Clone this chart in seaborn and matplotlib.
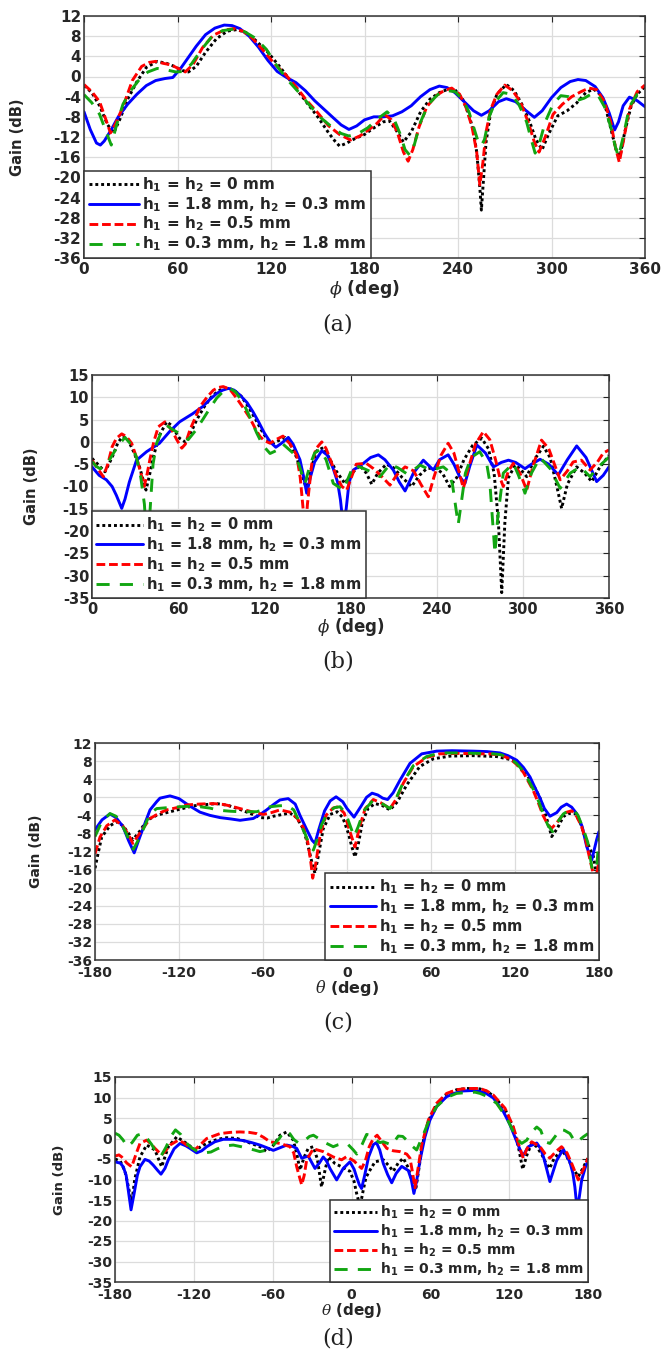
import matplotlib
matplotlib.use("Agg")
import matplotlib.pyplot as plt
import seaborn as sns

# --------------------
# Data (angle in deg, gain in dB)
# --------------------
LABELS = [r"h$_\mathbf{1}$ = h$_\mathbf{2}$ = 0 mm",
          r"h$_\mathbf{1}$ = 1.8 mm, h$_\mathbf{2}$ = 0.3 mm",
          r"h$_\mathbf{1}$ = h$_\mathbf{2}$ = 0.5 mm",
          r"h$_\mathbf{1}$ = 0.3 mm, h$_\mathbf{2}$ = 1.8 mm"]

# (a) phi cut, 0..360
a_blk_x = [0, 5, 10, 15, 19, 23, 28, 34, 40, 47, 53, 58, 63, 67, 72, 78, 85, 92, 98, 104, 110, 118, 126, 134, 142,
           150, 157, 161, 164, 168, 174, 180, 186, 192, 196, 200, 205, 210, 216, 222, 228, 233, 238, 243, 247, 250,
           252, 254, 255, 256, 258, 261, 265, 271, 276, 281, 286, 290, 294, 298, 304, 310, 316, 322, 327, 331, 335,
           339, 342, 344, 347, 351, 355, 360]
a_blk_y = [-1.8, -3.2, -5.8, -9.5, -11.2, -8.5, -4.5, -1.0, 1.8, 3.0, 2.6, 2.0, 1.2, 0.9, 2.0, 4.8, 7.5, 9.0, 9.3, 8.7,
           7.2, 4.8, 1.8, -1.5, -4.8, -8.0, -11.2, -12.8, -13.8, -13.3, -12.3, -11.5, -10.2, -9.0, -8.8, -10.5, -13.0,
           -11.0, -7.0, -4.5, -3.2, -2.6, -2.6, -4.5, -7.5, -11.0, -15.0, -22.0, -26.5, -22.0, -13.0, -7.0, -3.5, -1.6,
           -2.8, -5.5, -9.0, -12.5, -14.5, -11.5, -7.8, -6.8, -5.3, -3.2, -2.5, -3.5, -6.5, -11.5, -15.2, -15.8, -11.0,
           -6.0, -3.5, -2.0]
a_blu_x = [0, 4, 8, 10.5, 13, 17, 22, 28, 34, 40, 46, 52, 57, 62, 67, 72, 78, 84, 90, 95, 100, 106, 112, 118, 124, 130,
           136, 142, 148, 154, 160, 165, 170, 175, 180, 186, 192, 198, 204, 210, 216, 222, 228, 233, 238, 244, 250, 255,
           260, 266, 271, 277, 283, 289, 294, 300, 306, 312, 317, 322, 328, 333, 337, 340.5, 343, 346, 350, 355, 360]
a_blu_y = [-7.0, -10.5, -13.2, -13.6, -12.8, -10.8, -8.0, -5.5, -3.5, -1.8, -0.8, -0.4, -0.2, 1.6, 3.8, 6.0, 8.3, 9.6,
           10.2, 10.1, 9.5, 8.0, 5.8, 3.2, 1.0, -0.2, -1.2, -2.8, -4.8, -6.5, -8.2, -9.6, -10.5, -9.8, -8.6, -8.0, -8.0,
           -7.8, -7.0, -5.8, -4.0, -2.6, -1.9, -2.2, -3.2, -5.0, -6.8, -7.7, -6.8, -5.0, -4.4, -5.0, -6.6, -8.1, -6.8,
           -4.2, -2.2, -1.0, -0.6, -0.8, -2.0, -4.2, -7.2, -10.6, -9.0, -5.8, -4.1, -4.8, -6.0]
a_red_x = [0, 5, 10, 14, 17, 20, 25, 31, 37, 42, 46, 51, 56, 61, 65, 70, 76, 83, 90, 96, 102, 108, 115, 122, 129, 136,
           143, 150, 157, 164, 171, 177, 183, 188, 193, 197, 201, 205, 208, 211, 215, 220, 226, 231, 236, 241, 245, 249,
           252, 254, 256, 258, 261, 265, 270, 275, 280, 285, 289, 292, 296, 301, 307, 313, 319, 324, 329, 334, 338, 341,
           343.5, 346, 350, 355, 360]
a_red_y = [-1.6, -3.0, -5.0, -8.5, -11.2, -9.5, -6.0, -0.8, 2.0, 2.8, 3.0, 2.6, 2.3, 1.5, 0.9, 2.4, 5.7, 8.2, 9.2, 9.5,
           9.0, 7.6, 5.2, 2.6, 0.5, -2.0, -4.8, -7.2, -9.8, -11.5, -12.6, -11.8, -10.5, -9.3, -7.6, -8.5, -11.0, -15.0,
           -16.8, -14.5, -10.0, -6.0, -3.8, -2.8, -2.3, -3.5, -6.0, -10.0, -15.0, -21.5, -17.0, -11.0, -6.5, -3.5, -1.7,
           -2.8, -5.0, -9.0, -13.0, -15.0, -12.0, -7.5, -5.5, -4.0, -3.0, -2.3, -2.6, -5.0, -9.0, -14.0, -17.0, -13.0,
           -6.5, -3.0, -1.7]
a_grn_x = [0, 5, 10, 14, 17.5, 21, 25, 30, 35, 41, 47, 53, 59, 64, 69, 75, 82, 89, 96, 103, 110, 117, 124, 131, 138,
           145, 152, 159, 165, 170, 176, 182, 188, 194.5, 199, 203, 206, 209, 212, 216, 221, 227, 233, 238, 243, 247,
           250, 253, 255, 257, 260, 264, 269, 274, 279, 284, 287, 289.5, 292, 296, 301, 306, 311, 316, 321, 326, 330,
           334, 338, 341, 343, 346, 350, 355, 360]
a_grn_y = [-3.6, -5.2, -7.5, -10.8, -13.6, -9.5, -5.5, -2.8, -0.8, 0.9, 1.6, 1.3, 0.9, 1.0, 2.5, 5.2, 7.9, 9.1, 9.4,
           8.9, 7.6, 5.4, 2.0, -0.8, -3.2, -5.8, -8.2, -10.0, -11.3, -11.8, -11.3, -10.2, -8.5, -7.0, -8.5, -11.5,
           -14.5, -15.6, -13.5, -9.0, -5.5, -3.6, -2.8, -3.0, -4.5, -7.0, -10.0, -13.0, -13.7, -12.5, -8.0, -5.0, -3.2,
           -3.5, -5.5, -9.0, -12.5, -15.2, -13.5, -9.0, -5.5, -3.8, -4.0, -4.8, -4.3, -3.4, -3.8, -6.0, -10.0, -14.0,
           -15.9, -12.0, -6.0, -3.5, -2.6]

# (b) phi cut, 0..360
b_blk_x = [0, 4, 9, 14, 18, 21.5, 25, 29, 33, 37.6, 40, 43, 47, 52, 55, 58, 61, 64.8, 68, 73, 78, 83, 88, 94, 99, 104,
           109, 114, 118, 122, 126, 130, 134.4, 138, 142.5, 146, 149.5, 153, 156.5, 161, 165, 170, 176, 181, 186.6,
           191, 194.8, 199, 205, 210, 216, 222.6, 228, 233, 238.8, 244, 249, 254, 259, 265, 271.4, 276, 280, 283,
           285.3, 287.5, 290, 294.6, 298, 302.7, 308, 314.3, 319, 323, 327, 331, 337.5, 343, 348, 353, 360]
b_blk_y = [-3.7, -5.0, -6.7, -3.5, -0.2, 1.3, 0.5, -2.2, -5.5, -10.8, -7.5, -3.0, 1.5, 4.5, 3.8, 2.3, 0.8, 0.0, 1.5,
           5.0, 7.8, 10.0, 11.5, 12.1, 11.6, 10.2, 7.8, 5.0, 2.6, 0.6, -0.3, 0.3, 1.0, -0.5, -3.5, -7.0, -10.8, -5.5,
           -2.0, -1.3, -3.5, -6.5, -9.3, -7.0, -5.3, -7.0, -9.5, -7.0, -5.0, -5.8, -8.0, -10.0, -7.5, -6.0, -5.8, -7.0,
           -10.0, -8.0, -4.0, -0.8, 0.8, -1.5, -7.0, -18.0, -33.8, -18.0, -8.0, -5.2, -6.0, -7.8, -4.0, -1.0, -3.5,
           -9.0, -14.9, -9.5, -5.6, -7.0, -8.9, -6.0, -3.0]
b_blu_x = [0, 5, 10, 14, 17, 20.7, 23, 26, 31, 38, 47, 54, 61, 70, 77, 82, 87, 91, 95, 99, 103, 108, 112, 116, 120,
           124, 128, 132, 136.7, 140, 144.8, 147.5, 149.5, 152, 155, 160, 164, 168, 171, 173, 175, 177, 179, 182,
           189, 194, 199.4, 204, 209.8, 214, 218, 223.8, 230.7, 237.7, 242, 248, 252, 256, 259.7, 263, 268, 274,
           279.5, 285, 290, 295, 301.5, 306, 312, 318, 324.7, 331, 337.5, 344, 351.4, 356, 360]
b_blu_y = [-5.6, -7.5, -8.5, -10.0, -12.0, -14.9, -12.8, -9.0, -4.1, -2.2, -0.3, 2.3, 4.5, 6.3, 7.9, 9.5, 10.9, 11.6,
           12.0, 11.6, 10.5, 8.8, 6.8, 4.5, 2.0, 0.0, -1.2, -0.3, 1.0, -0.5, -4.0, -8.0, -11.5, -8.0, -4.5, -2.0, -3.0,
           -6.0, -9.0, -13.0, -19.0, -15.0, -9.0, -6.3, -4.8, -3.5, -2.9, -4.0, -6.3, -9.0, -11.0, -7.0, -4.1, -6.3,
           -4.0, -2.9, -5.0, -7.8, -9.3, -5.5, -0.7, -2.5, -5.6, -4.6, -4.1, -4.6, -6.0, -5.0, -3.9, -5.0, -7.4, -4.0,
           -0.9, -3.5, -8.9, -7.5, -5.6]
b_red_x = [0, 4, 7.9, 11, 14, 17, 20.7, 24, 27.6, 31, 34, 36.4, 38.5, 40.4, 43, 46.2, 50.8, 55.5, 59, 62.5, 65, 68.2,
           72, 75.2, 80, 84.5, 88, 91.4, 96, 100.7, 105, 110, 114, 117, 120, 124, 128, 133, 138, 142.5, 145, 147,
           148.5, 150, 153, 156, 160, 163, 166, 170, 174, 177.4, 180, 184, 191, 196, 201, 207.5, 212, 218, 224, 229,
           234.2, 238, 243, 248, 252, 255, 258.6, 262, 267, 272.5, 277, 281, 284, 286.4, 290, 293.4, 298, 302.7, 307,
           313, 318, 322, 326, 331, 335, 340.8, 346.8, 352, 356, 360]
b_red_y = [-4.1, -6.0, -7.8, -5.0, -1.1, 0.8, 1.8, 1.2, -0.3, -3.5, -7.0, -10.0, -7.0, -3.8, 0.0, 3.4, 4.5, 2.7, 0.5,
           -1.4, -0.5, 2.7, 5.5, 7.9, 10.0, 11.6, 12.2, 12.4, 11.8, 9.8, 7.8, 5.3, 2.8, 1.2, 0.3, -0.3, 0.5, 1.3, -0.5,
           -3.0, -8.0, -15.0, -21.0, -14.0, -5.0, -1.5, 0.0, -1.5, -4.0, -7.5, -10.0, -10.8, -8.5, -5.0, -4.8, -6.0,
           -7.5, -9.7, -7.5, -5.6, -6.5, -9.5, -12.3, -8.0, -3.0, -0.3, -2.5, -6.0, -10.4, -6.0, -0.5, 2.3, 0.5, -4.0,
           -8.0, -10.0, -6.5, -4.8, -7.0, -10.8, -5.5, 0.4, -1.5, -5.0, -8.5, -6.5, -4.5, -4.1, -6.3, -4.5, -2.5, -1.8]
b_grn_x = [0, 3, 5.6, 10, 15, 19, 23, 27, 31, 34, 36.5, 38.5, 40.5, 42.5, 45, 48, 52, 56, 61.3, 67, 72, 77.5, 82, 86.8,
           91, 96, 100, 105.4, 110, 114.7, 119, 124, 128, 133, 140, 144, 148.3, 152, 155, 158.8, 163, 168, 175, 182,
           188, 193.6, 200.5, 207.5, 213, 219, 223, 228.4, 235.4, 240, 244.6, 248, 251, 253, 255, 257, 260, 264, 270,
           274.8, 277, 279, 280.6, 282.5, 286.4, 293.4, 297, 301.5, 306, 312, 319, 326, 333, 340, 346.8, 353, 360]
b_grn_y = [-4.4, -5.5, -6.0, -5.2, -2.5, -0.5, 1.0, -0.5, -3.5, -8.0, -14.0, -25.0, -15.0, -5.0, -0.3, 2.0, 3.7, 2.8,
           1.8, 0.5, 2.5, 5.2, 7.5, 9.8, 11.2, 12.0, 11.2, 8.7, 5.5, 2.0, -0.8, -2.6, -2.0, -0.5, -2.5, -5.0, -9.3,
           -5.0, -2.5, -1.7, -4.0, -9.3, -10.8, -5.3, -5.8, -6.6, -7.8, -5.0, -5.8, -7.1, -6.5, -5.2, -6.3, -6.0, -5.6,
           -6.5, -9.5, -14.0, -18.5, -14.0, -7.0, -3.5, -2.2, -4.8, -9.0, -18.0, -25.0, -17.0, -7.0, -4.8, -7.5, -11.5,
           -7.0, -3.5, -6.0, -10.4, -7.0, -5.6, -7.8, -5.5, -3.4]

# (c) theta cut, -180..180
c_blk_x = [-180, -177.5, -175.2, -169.3, -164.5, -160, -156, -153, -148, -143, -136, -128.8, -120, -109.8, -100, -93,
           -85, -76.4, -69, -62, -57, -52.6, -46, -40.7, -36, -31.2, -28, -25, -22.9, -20.5, -17, -12, -7, -3, 1, 3.5,
           5.7, 8, 11, 15, 20, 25, 30.7, 36, 42.6, 52, 61.6, 73.6, 90, 106.9, 118.8, 128.4, 133, 137.9, 142, 146.2,
           150, 154.5, 158, 162.9, 166.5, 170, 173, 176, 178.9, 180]
c_blk_y = [-15.7, -12.0, -8.8, -6.3, -5.4, -6.3, -8.0, -9.4, -7.5, -5.1, -4.0, -3.4, -2.7, -1.9, -1.6, -1.4, -1.8, -2.7,
           -3.6, -4.5, -4.6, -4.2, -3.8, -3.5, -4.5, -7.0, -10.5, -14.5, -16.8, -13.0, -7.0, -3.8, -3.2, -4.5, -8.0,
           -11.0, -13.2, -10.5, -5.5, -2.5, -1.4, -1.8, -2.8, -1.0, 2.7, 6.8, 8.5, 9.1, 9.2, 9.0, 8.2, 5.0, 2.8, -0.2,
           -4.0, -8.7, -7.0, -4.3, -3.6, -3.6, -5.5, -8.7, -11.0, -13.1, -18.3, -16.5]
c_blu_x = [-180, -175, -169.3, -165, -160, -156, -152, -148, -144, -140.7, -136, -133.6, -126.4, -120, -113, -105, -98,
           -90.7, -83, -76.4, -67, -62, -57.4, -52, -47.9, -42, -37, -33.6, -29, -25, -22.9, -20, -16, -12, -7.8, -3,
           0, 5, 10, 14, 17.9, 22, 25.5, 29, 33, 37.9, 45, 53.4, 64, 75, 90, 100, 109.3, 115, 121.2, 126, 130.7, 134,
           137.9, 141, 145, 149.8, 153, 156.9, 160.5, 164, 168, 171.2, 174.8, 178.3, 180]
c_blu_y = [-7.2, -5.0, -3.7, -4.5, -6.5, -9.6, -12.3, -8.8, -5.5, -2.8, -1.0, -0.2, 0.3, -0.3, -1.8, -3.3, -4.0, -4.5,
           -4.8, -5.1, -4.7, -3.8, -2.8, -1.5, -0.6, -0.3, -1.5, -4.0, -7.0, -9.5, -10.2, -7.0, -3.0, -0.8, 0.1, -1.0,
           -2.5, -4.4, -2.0, 0.0, 0.9, 0.5, -0.2, -0.5, 1.0, 3.8, 7.5, 9.6, 10.2, 10.3, 10.2, 10.1, 9.8, 9.2, 8.2, 6.6,
           4.5, 2.3, -0.2, -2.5, -4.2, -3.4, -2.2, -1.5, -2.2, -3.6, -6.5, -10.9, -13.9, -9.4, -7.6]
c_red_x = [-180, -176.4, -171.6, -165.7, -159.8, -156, -153, -147.9, -140.7, -134, -128.8, -120, -114.5, -105, -95.5,
           -88, -81.2, -74, -67, -59.8, -54, -47.9, -40.7, -36, -31.2, -28, -26, -24.5, -22.5, -19, -15, -10, -6.4, -2,
           2, 5.7, 9, 13, 18.8, 24, 30.7, 35, 40.2, 47.4, 56.9, 66.4, 80, 95, 102, 110, 116.4, 121, 126, 133, 137,
           140, 143, 146, 149.5, 153.4, 157, 160.5, 164, 167.6, 170.5, 173.6, 177, 179, 180]
c_red_y = [-12.5, -8.8, -6.3, -5.0, -6.5, -8.3, -10.2, -7.9, -4.7, -3.5, -2.8, -2.2, -1.7, -1.5, -1.4, -1.6, -2.1, -2.7,
           -3.3, -3.8, -3.4, -2.8, -3.3, -4.5, -6.7, -10.0, -14.0, -17.9, -15.0, -8.0, -4.0, -2.4, -2.1, -3.5, -7.5,
           -11.0, -6.5, -2.5, -0.5, -1.2, -2.5, -0.5, 3.1, 6.8, 8.8, 9.6, 9.7, 9.6, 9.6, 9.3, 8.5, 7.3, 5.5, 1.5, -1.5,
           -4.0, -5.8, -6.9, -5.8, -4.2, -3.3, -3.0, -4.2, -6.5, -9.5, -13.9, -18.3, -16.0, -13.9]
c_grn_x = [-180, -175.2, -169.3, -165, -162, -158, -155, -152.6, -147.9, -144, -140.7, -135.9, -128, -119.3, -112,
           -105, -98, -90.7, -83, -76.4, -70, -64.5, -59, -55, -49, -43, -38, -33.6, -30, -27, -24, -21.5, -18, -14,
           -9, -5, -1, 2.5, 5, 8, 12, 18.8, 24, 30.7, 35, 40.2, 47.4, 56.9, 66.4, 80, 95, 102, 110, 116.4, 121, 126,
           133, 137, 140, 143.5, 146.9, 150.5, 154.5, 158, 161.8, 165, 169, 172, 174.8, 177.5, 180]
c_grn_y = [-8.7, -5.4, -3.6, -4.2, -5.4, -7.8, -10.0, -11.5, -8.8, -6.0, -3.6, -2.5, -2.3, -2.1, -2.0, -2.1, -2.4,
           -2.9, -3.1, -3.2, -3.2, -3.2, -2.7, -2.1, -1.9, -1.8, -2.8, -5.8, -8.0, -10.5, -11.7, -9.5, -6.0, -3.5,
           -2.3, -2.1, -3.5, -6.5, -8.7, -6.5, -3.0, -0.6, -1.2, -2.5, -0.3, 3.3, 7.0, 9.0, 9.8, 9.8, 9.7, 9.7, 9.4,
           8.6, 7.5, 5.8, 1.8, -1.0, -3.6, -6.2, -7.6, -5.5, -3.7, -3.0, -2.8, -4.0, -7.2, -10.0, -15.3, -19.0, -9.0]

# (d) theta cut, -180..180
d_blk_x = [-180, -176, -172.4, -170, -167.3, -165, -161, -155.9, -149.6, -144.5, -139.4, -133, -125.5, -119.1, -110.2,
           -102, -95, -87, -79.8, -69.7, -64.6, -59, -54.4, -49.3, -44.3, -41.5, -39.2, -36, -32.9, -29.1, -26, -22.8,
           -20, -17.7, -12.6, -7.5, -1.2, 2, 3.9, 6.5, 9, 11, 14.1, 17.9, 24.2, 28, 31.8, 35.5, 39.4, 43, 46.8, 48.8,
           51, 54, 58.5, 64.8, 72.4, 80, 87.6, 97.8, 103, 107.9, 116.8, 123.1, 127, 130.3, 133.5, 137.1, 141, 145, 148,
           150.8, 154, 159.9, 164, 168, 172.6, 176.5, 180]
d_blk_y = [-5.0, -5.5, -8.0, -11.5, -15.8, -10.0, -4.5, -1.6, -2.8, -6.9, -2.0, 0.4, -1.2, -2.8, -1.2, -0.2, 0.2, 0.0,
           -0.8, -2.0, -3.2, -1.5, 0.8, 1.6, -0.4, -4.0, -7.7, -4.5, -2.4, -2.0, -5.0, -11.8, -7.5, -4.5, -6.1, -6.9,
           -8.0, -10.5, -13.4, -16.6, -12.5, -9.5, -7.7, -5.7, -5.2, -6.5, -8.0, -6.0, -4.8, -7.0, -11.0, -12.6, -8.0,
           -1.5, 4.3, 8.3, 10.8, 11.9, 12.2, 12.1, 11.5, 10.4, 7.2, 2.6, -2.0, -7.5, -4.0, -1.2, -2.0, -4.0, -6.0,
           -7.3, -5.0, -2.8, -4.5, -7.0, -9.3, -7.0, -4.8]
d_blu_x = [-180, -176, -173.7, -171.5, -169.9, -167.8, -165.5, -163, -161, -157.2, -154, -150.9, -147.5, -145, -142,
           -139.4, -135, -130.5, -126, -123, -117.8, -114, -110.2, -104, -97.6, -90, -82.4, -76, -69.7, -64, -59.5,
           -54, -49.3, -45, -41.7, -37.9, -32.9, -27.8, -24.5, -21.5, -19, -16.4, -11.3, -6.3, -1.2, 2, 4, 6, 7.7, 10,
           13, 16.6, 19, 21.5, 24.2, 27.5, 30.6, 34, 38.2, 43.2, 45.5, 47.5, 49.5, 52.1, 55.9, 59.7, 64.8, 72.4, 78,
           85, 92, 97.8, 103, 107.9, 115.5, 120.6, 125.7, 130.3, 134.6, 141, 144, 146.5, 149, 151, 153.5, 156.1, 161.2,
           166.3, 168.5, 170, 171.8, 173.5, 175.2, 178, 180]
d_blu_y = [-5.7, -6.0, -6.9, -9.0, -12.6, -17.4, -13.5, -9.0, -6.9, -5.1, -5.5, -6.5, -7.8, -8.7, -7.3, -5.2, -2.5,
           -1.2, -1.8, -2.4, -3.5, -3.0, -2.0, -0.8, -0.2, -0.2, -0.5, -1.0, -1.6, -2.3, -2.9, -2.2, -1.6, -1.9, -2.4,
           -4.8, -4.3, -7.3, -6.0, -4.5, -5.5, -7.3, -10.1, -7.3, -5.7, -7.5, -9.5, -11.3, -12.2, -9.0, -4.5, -1.5,
           -1.0, -2.8, -6.1, -8.8, -10.8, -8.5, -6.8, -7.8, -10.0, -13.4, -10.5, -5.4, 0.4, 4.5, 7.8, 10.2, 11.0, 11.6,
           11.7, 11.5, 10.9, 9.9, 6.6, 3.4, -0.7, -4.3, -2.0, -1.1, -2.5, -4.9, -8.0, -10.5, -8.0, -5.4, -2.6, -5.8,
           -8.5, -11.8, -17.5, -14.0, -10.1, -7.0, -5.4]
d_red_x = [-180, -177, -174.9, -171, -167.3, -164, -161, -155.9, -152, -149.6, -144.5, -141, -138.1, -131.8, -128,
           -124.2, -119.1, -115, -110.2, -100.1, -92, -84.9, -78, -72.2, -67, -62, -54.4, -46.8, -44, -41.7, -39.5,
           -37.9, -36, -34.1, -29.1, -21.5, -13.9, -7.5, -3.7, 2, 5, 7.7, 10.5, 13.5, 16.6, 19.5, 22.5, 26.8, 31.8,
           36.9, 42, 44.5, 46.3, 48.3, 50.3, 53.4, 58.5, 64.8, 72.4, 80, 87.6, 97.8, 103, 107.9, 116.8, 123.1, 127,
           129.5, 130.7, 133.5, 137.1, 143.5, 147.5, 151, 155.5, 159.9, 164, 167.6, 172.6, 176.5, 180]
d_red_y = [-4.3, -4.0, -4.5, -6.0, -6.9, -3.8, -1.2, -0.4, -1.5, -2.4, -4.0, -2.8, -1.6, -0.4, -1.0, -1.9, -2.7, -1.5,
           0.0, 1.2, 1.5, 1.6, 1.5, 1.2, 0.3, -0.8, -1.2, -2.0, -3.5, -6.9, -9.5, -11.3, -9.0, -5.2, -2.5, -3.2, -4.5,
           -5.2, -4.4, -5.5, -6.5, -7.3, -5.5, -2.0, 0.0, 0.8, -0.5, -2.4, -3.0, -3.2, -3.8, -4.8, -8.0, -12.0, -8.0,
           -1.6, 4.5, 8.6, 11.0, 11.9, 12.2, 12.2, 11.6, 10.6, 7.4, 2.9, -1.2, -3.6, -4.8, -2.5, -0.8, -2.0, -3.8, -4.8,
           -3.2, -2.0, -3.5, -6.1, -10.1, -7.5, -4.8]
d_grn_x = [-180, -177, -174, -170.5, -167, -163, -159, -155.5, -152, -148.5, -145, -141, -137.5, -134, -130, -126,
           -122, -117, -112, -107, -102, -96, -90, -84, -79, -74, -69.7, -64, -59.5, -55, -51, -47, -44, -40, -36,
           -32, -29, -25, -21.5, -17, -13.9, -10, -6.3, -2.5, 1.4, 4, 8, 11.5, 14.1, 18, 21.5, 24.2, 27.5, 30.6,
           35.6, 39, 42, 46, 49.6, 52, 55, 58.5, 64.8, 72.4, 80, 87.6, 94, 97.8, 103, 110.4, 118.3, 125.7, 129.5,
           133.4, 137, 141, 144, 147.2, 151, 155, 158.7, 162, 166.3, 170, 173, 176.4, 180]
d_grn_y = [1.3, 0.8, -0.3, -2.0, -1.0, 0.8, 1.2, 0.0, -1.5, -3.5, -4.3, -2.0, 0.5, 2.1, 1.0, -1.0, -2.2, -3.2, -3.5,
           -3.3, -2.5, -1.8, -1.6, -2.0, -2.4, -2.8, -3.2, -2.8, -1.6, 0.0, 1.8, 1.2, -0.2, -1.2, -0.6, 0.5, 0.8, 0.0,
           -0.8, -1.5, -2.0, -1.5, -1.2, -1.5, -2.8, -3.8, -1.5, 1.0, 0.8, -0.3, -1.0, -0.8, -1.2, -1.6, 0.6, 0.5,
           -0.4, -1.8, -2.8, -1.0, 1.2, 4.0, 7.8, 10.0, 11.0, 11.2, 11.3, 11.0, 10.3, 8.6, 4.9, 0.0, -1.2, -0.4, 1.5,
           2.8, 2.0, -0.8, -1.2, 0.5, 2.2, 2.0, 1.2, -0.8, -0.5, 0.4, 1.2]

# --------------------
# Style
# --------------------
COLORS = ["black", "#0000ff", "#ff0000", "#12a612"]
STYLES = [(0, (1, 1)), "-", (0, (3, 1.3)), (0, (4.5, 3.5))]

sns.set_theme(style="white")
plt.rcParams["font.family"] = ["DejaVu Sans"]
plt.rcParams["mathtext.fontset"] = "custom"
plt.rcParams["mathtext.bf"] = "DejaVu Sans:bold"
plt.rcParams["mathtext.rm"] = "DejaVu Sans:bold"
plt.rcParams["mathtext.it"] = "DejaVu Serif:italic"
plt.rcParams["axes.unicode_minus"] = False

W, H = 663, 1349
fig = plt.figure(figsize=(W / 100, H / 100), dpi=100)


def px_box(l, t, r, b):
    return [l / W, 1 - b / H, (r - l) / W, (b - t) / H]


def panel(box, series, xlim, xticks, ylim, yticks, loc, tick_fs, leg_fs, hlen,
          xlab, xlab_fs, xlab_y, ylab_x, ylab_fs, tag, tag_y, xpad=2):
    ax = fig.add_axes(px_box(*box))
    for (xs, ys), lab, col, ls in zip(series, LABELS, COLORS, STYLES):
        sns.lineplot(x=xs, y=ys, color=col, linestyle=ls, lw=2.1, label=lab, ax=ax,
                     estimator=None, errorbar=None, sort=False)
    ax.set_xlim(xlim); ax.set_ylim(ylim)
    ax.set_xticks(xticks); ax.set_yticks(yticks)
    ax.set_xlabel(""); ax.set_ylabel("")
    ax.grid(True, color="#dcdcdc", lw=0.9)
    ax.set_axisbelow(True)
    ax.tick_params(direction="in", length=4, width=0.8, top=True, right=True,
                   labelsize=tick_fs, colors="#262626", pad=2)
    ax.tick_params(axis="x", pad=xpad)
    for lb in ax.get_xticklabels() + ax.get_yticklabels():
        lb.set_fontweight("bold")
    for s in ax.spines.values():
        s.set_color("#333333"); s.set_linewidth(1.1)
    anchor = (0, 0) if loc == "lower left" else (1, 0)
    leg = ax.legend(loc=loc, bbox_to_anchor=anchor, borderaxespad=0, fancybox=False,
                    framealpha=1, edgecolor="#333333", prop=dict(weight="bold", size=leg_fs),
                    handlelength=hlen, handletextpad=0.2, labelspacing=0.1, borderpad=0.3)
    leg.get_frame().set_linewidth(1.1)
    cx = (box[0] + box[2]) / 2 / W
    fig.text(cx, 1 - xlab_y / H, xlab, ha="center", va="center", fontsize=xlab_fs,
             fontweight="bold", color="#262626")
    fig.text(ylab_x / W, 1 - (box[1] + box[3]) / 2 / H, "Gain (dB)", rotation=90, ha="center",
             va="center", fontsize=ylab_fs, fontweight="bold", color="#262626")
    fig.text(338 / W, 1 - tag_y / H, tag, ha="center", va="center", fontsize=16,
             family="DejaVu Serif", color="#222222")
    return ax


panel((84, 16, 645, 258),
      [(a_blk_x, a_blk_y), (a_blu_x, a_blu_y), (a_red_x, a_red_y), (a_grn_x, a_grn_y)],
      (0, 360), range(0, 361, 60), (-36, 12), range(-36, 13, 4), "lower left",
      11, 11, 3.3, r"$\it{\phi}$ (deg)", 12.5, 289, 18, 10.5, "(a)", 325, xpad=3)
panel((92, 375, 609, 598),
      [(b_blk_x, b_blk_y), (b_blu_x, b_blu_y), (b_red_x, b_red_y), (b_grn_x, b_grn_y)],
      (0, 360), range(0, 361, 60), (-35, 15), range(-35, 16, 5), "lower left",
      10.5, 10.5, 3.2, r"$\it{\phi}$ (deg)", 12, 627, 32, 10.5, "(b)", 662, xpad=3)
panel((95, 743, 599, 960),
      [(c_blk_x, c_blk_y), (c_blu_x, c_blu_y), (c_red_x, c_red_y), (c_grn_x, c_grn_y)],
      (-180, 180), range(-180, 181, 60), (-36, 12), range(-36, 13, 4), "lower right",
      10, 10.5, 3.2, r"$\it{\theta}$ (deg)", 11.5, 988, 36, 10, "(c)", 1022, xpad=4.5)
panel((115, 1077, 588, 1282),
      [(d_blk_x, d_blk_y), (d_blu_x, d_blu_y), (d_red_x, d_red_y), (d_grn_x, d_grn_y)],
      (-180, 180), range(-180, 181, 60), (-35, 15), range(-35, 16, 5), "lower right",
      10, 10, 3.1, r"$\it{\theta}$ (deg)", 11, 1310, 60, 9.5, "(d)", 1338, xpad=4.5)

fig.savefig("out.png", dpi=100, facecolor="white")
